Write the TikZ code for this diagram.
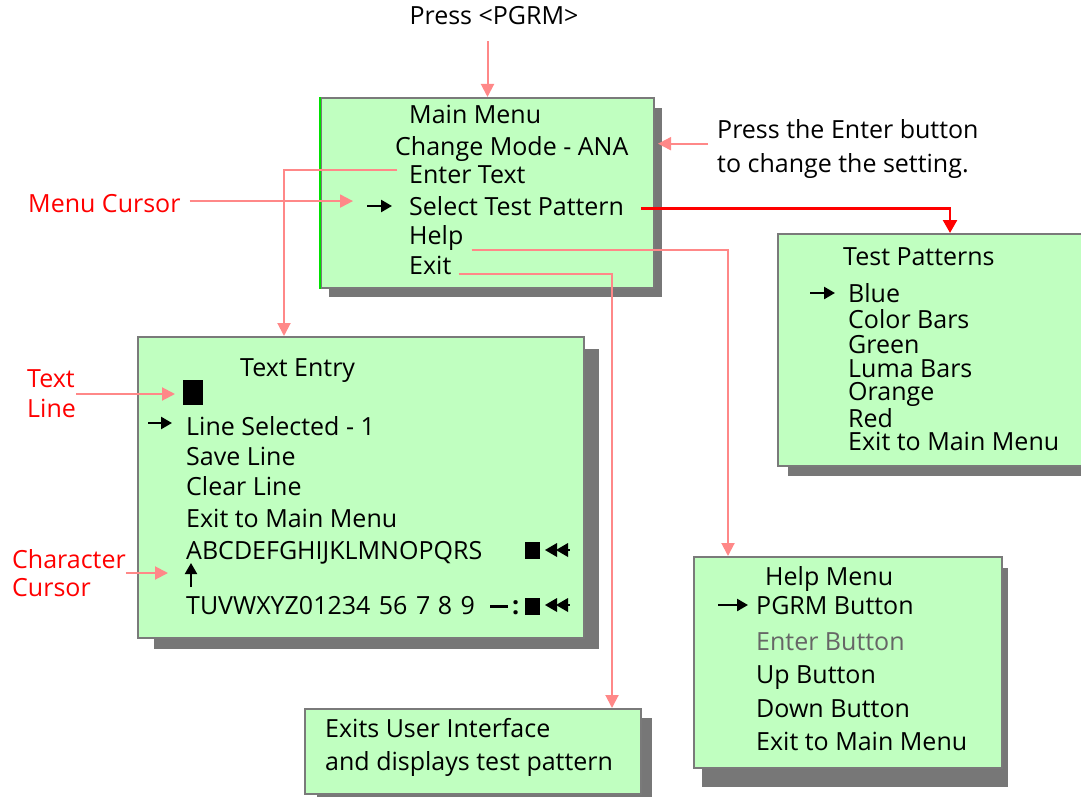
\documentclass[tikz,border=0pt]{standalone}
\usepackage{fontspec}
\setmainfont{Open Sans}
\usetikzlibrary{positioning, arrows.meta, calc}
\definecolor{menuGreen}{HTML}{C0FFC0}
\definecolor{menuShadow}{HTML}{777777}
\definecolor{menuEdge}{HTML}{7A7A7A}
\definecolor{leadPink}{HTML}{FF8888}
\definecolor{leadRed}{HTML}{FF0000}
\definecolor{edgeGreen}{HTML}{00E000}

\begin{document}
\begin{tikzpicture}[x=1pt, y=-1pt, font=\fontsize{25}{30}\selectfont,
    menubox/.style={draw=menuEdge, line width=2pt, fill=menuGreen, anchor=north west, inner sep=0pt},
    boxshadow/.style={fill=menuShadow},
    menuitem/.style={anchor=base west, inner sep=0pt},
    redlabel/.style={text=leadRed, align=left, anchor=west, inner sep=0pt},
    pinklead/.style={draw=leadPink, line width=2pt, -{Triangle[length=13pt, width=13pt]}},
    redlead/.style={draw=leadRed, line width=2.5pt, -{Triangle[length=13pt, width=14pt]}},
    curarrow/.style={line width=2.5pt, -{Triangle[length=11pt, width=12pt]}},
    cursorblock/.style={fill=black, inner sep=0pt, anchor=north west}]
  \useasboundingbox (0,0) rectangle (1081,797);

  % shadows behind the menus
  \fill[boxshadow] (329,108) rectangle (662,297);
  \fill[boxshadow] (154,349) rectangle (599,649);
  \fill[boxshadow] (788,244) rectangle (1100,476);
  \fill[boxshadow] (702,568) rectangle (1008,787);
  \fill[boxshadow] (317,718) rectangle (652,805);

  % menus
  \node[menubox, minimum width=333pt, minimum height=190pt] (mainbox) at (320,97) {};
  \draw[edgeGreen, line width=2.5pt] (mainbox.north west) -- (mainbox.south west);
  \node[menubox, minimum width=446pt, minimum height=301pt] (textbox) at (137,336) {};
  \node[menubox, minimum width=320pt, minimum height=232pt] (tpbox) at (777,233) {};
  \node[menubox, minimum width=308pt, minimum height=211pt] (hmbox) at (693,556) {};
  \node[menubox, minimum width=336pt, minimum height=85pt] (exbox) at (304,708) {};

  % main menu
  \node[menuitem] (mmtitle) at (409,124) {Main Menu};
  \node[menuitem] (mmmode) at (395,155) {Change Mode - ANA};
  \node[menuitem] (mmtext) at (409,183) {Enter Text};
  \node[menuitem] (mmpattern) at (409,215) {Select Test Pattern};
  \node[menuitem] (mmhelp) at (409,244) {Help};
  \node[menuitem] (mmexit) at (409,274) {Exit};
  \coordinate (mmcur) at (367,206);
  \draw[curarrow] (mmcur) -- ++(25,0);

  % text entry
  \node[menuitem] (tetitle) at (240,376) {Text Entry};
  \node[cursorblock, minimum width=20pt, minimum height=25pt] (lineblock) at (183,380) {};
  \node[menuitem] (teline) at (186,435) {Line Selected - 1};
  \node[menuitem] (tesave) at (186,465) {Save Line};
  \node[menuitem] (teclear) at (186,495) {Clear Line};
  \node[menuitem] (teexit) at (186,527) {Exit to Main Menu};
  \node[menuitem] (teabc) at (186,559) {ABCDEFGHIJKLMNOPQRS};
  \node[menuitem] (tetuv) at (186,614) {TUVWXYZ01234\hspace{2pt} 56\hspace{2pt} 7\hspace{1pt} 8\hspace{2pt} 9};
  \node[menuitem] (tecolon) at (512,614) {\textbf{:}};
  \draw[line width=3pt] (490,606) -- (508,606);
  \coordinate (tecur) at (148,423);
  \draw[curarrow] (tecur) -- ++(24,0);
  \coordinate (charcur) at (191,587);
  \draw[line width=2pt, -{Triangle[length=11pt, width=12pt]}] (charcur) -- ++(0,-24);
  \node[cursorblock, minimum width=15pt, minimum height=17pt] (abcblock) at (525,542) {};
  \node[cursorblock, minimum width=15pt, minimum height=17pt] (tuvblock) at (525,598) {};
  \foreach \y in {550,605} {
    \fill (545,\y) -- (557,\y-7) -- (557,\y+7) -- cycle;
    \fill (556,\y) -- (568,\y-7) -- (568,\y+7) -- cycle;
    \draw[line width=2pt] (566,\y) -- (570,\y);
  }

  % test patterns
  \node[menuitem] (tptitle) at (843,265) {Test Patterns};
  \node[menuitem] (tpblue) at (848,302) {Blue};
  \node[menuitem] (tpbars) at (848,328) {Color Bars};
  \node[menuitem] (tpgreen) at (848,353) {Green};
  \node[menuitem] (tpluma) at (848,377) {Luma Bars};
  \node[menuitem] (tporange) at (848,400) {Orange};
  \node[menuitem] (tpred) at (848,427) {Red};
  \node[menuitem] (tpexit) at (848,450) {Exit to Main Menu};
  \coordinate (tpcur) at (810,293);
  \draw[curarrow] (tpcur) -- ++(25,0);

  % help menu
  \node[menuitem] (hmtitle) at (765,585) {Help Menu};
  \node[menuitem] (hmpgrm) at (756,614) {PGRM Button};
  \node[menuitem, text=black!60] (hmenter) at (756,650) {Enter Button};
  \node[menuitem] (hmup) at (756,683) {Up Button};
  \node[menuitem] (hmdown) at (756,717) {Down Button};
  \node[menuitem] (hmexit) at (756,750) {Exit to Main Menu};
  \coordinate (hmcur) at (718,605);
  \draw[curarrow] (hmcur) -- ++(30,0);

  % exit
  \node[menuitem] (exline1) at (325,737) {Exits User Interface};
  \node[menuitem] (exline2) at (325,770) {and displays test pattern};

  % notes
  \node[anchor=base, inner sep=0pt] (pgrm) at (494,25) {Press <PGRM>};
  \node[anchor=north west, align=left, inner sep=0pt,
        font=\fontsize{25}{34}\selectfont] (enterhint) at (717,119) {Press the Enter button\\to change the setting.};
  \node[redlabel, anchor=base west] (lblcursor) at (28,212) {Menu Cursor};
  \node[redlabel] (lbltextline) at (27,394) {Text\\Line};
  \node[redlabel, font=\fontsize{25}{28}\selectfont] (lblchar) at (12,573) {Character\\Cursor};

  % leaders
  \draw[pinklead, shorten <=16pt] (pgrm.south -| mainbox.north) -- (mainbox.north);
  \draw[pinklead, shorten <=9pt] ([yshift=5pt]enterhint.west) -- ([yshift=5pt, xshift=3pt]enterhint.west -| mainbox.east);
  \draw[pinklead, shorten <=9pt] ([yshift=2pt]lblcursor.east) -- ([xshift=-14pt, yshift=2pt]lblcursor.east -| mmcur);
  \draw[pinklead] ([xshift=-12pt, yshift=4pt]mmtext.west) -| ([xshift=147pt]textbox.north west);
  \draw[redlead] ([xshift=17pt, yshift=-3pt]mmpattern.east) -| ([xshift=173pt]tpbox.north west);
  \draw[pinklead] ([xshift=8pt]mmhelp.south east) -| ([xshift=35pt]hmbox.north west);
  \draw[pinklead] ([xshift=7pt]mmexit.south east) -| ([xshift=308pt]exbox.north west);
  \draw[pinklead, shorten >=8pt] (lbltextline.east) -- (lbltextline.east -| lineblock.west);
  \draw[pinklead, shorten >=23pt] (lblchar.east) -- (lblchar.east -| charcur);
\end{tikzpicture}
\end{document}
